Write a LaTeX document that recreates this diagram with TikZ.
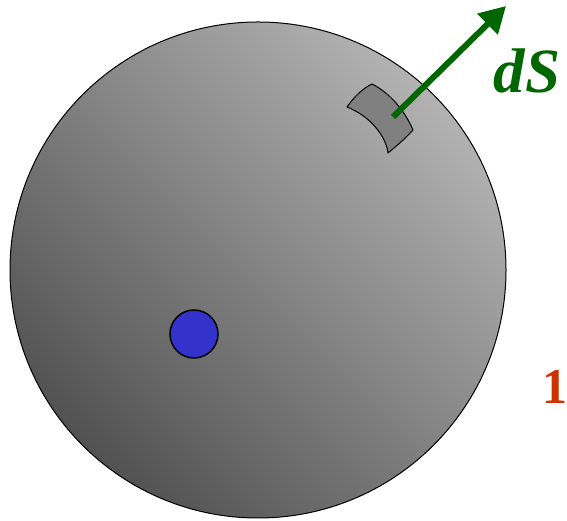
\documentclass[tikz,border=0pt]{standalone}
\usepackage{fontspec}
\setmainfont{Liberation Serif}
\usetikzlibrary{arrows.meta}
\definecolor{arrowgreen}{HTML}{006600}
\definecolor{labelred}{HTML}{CC3300}
\definecolor{dotblue}{HTML}{3333CC}
\tikzset{
  patch/.style={fill=black!50, draw=black, line width=1pt, line join=round},
  vec/.style={draw=arrowgreen, line width=6pt, -{Triangle[length=26pt,width=28pt]}},
  charge/.style={circle, fill=dotblue, draw=black, line width=1.5pt, minimum size=48pt, inner sep=0pt}
}
\begin{document}
\begin{tikzpicture}[x=1pt,y=1pt]
\useasboundingbox (0,0) rectangle (567,521);
\shade[top color=black!30, bottom color=black!68, shading angle=-45] (258,251) circle[radius=248];
\draw[line width=1pt] (258,251) circle[radius=248];
\node[charge] (q) at (194,187) {};
\path[patch] (347,414) .. controls (355,425) and (362,432) .. (372,437)
  .. controls (390,428) and (405,410) .. (413,391)
  .. controls (403,380) and (395,374) .. (388,368)
  .. controls (386,385) and (370,405) .. cycle;
\coordinate (s) at (393,404);
\coordinate (t) at (506,515);
\draw[vec] (s) -- (t);
\node[text=arrowgreen, font=\fontsize{63}{63}\selectfont\bfseries\itshape, anchor=base] (dS) at (527,428) {dS};
\node[text=labelred, font=\fontsize{50}{50}\selectfont\bfseries, anchor=base] (one) at (555,117) {1};
\end{tikzpicture}
\end{document}
